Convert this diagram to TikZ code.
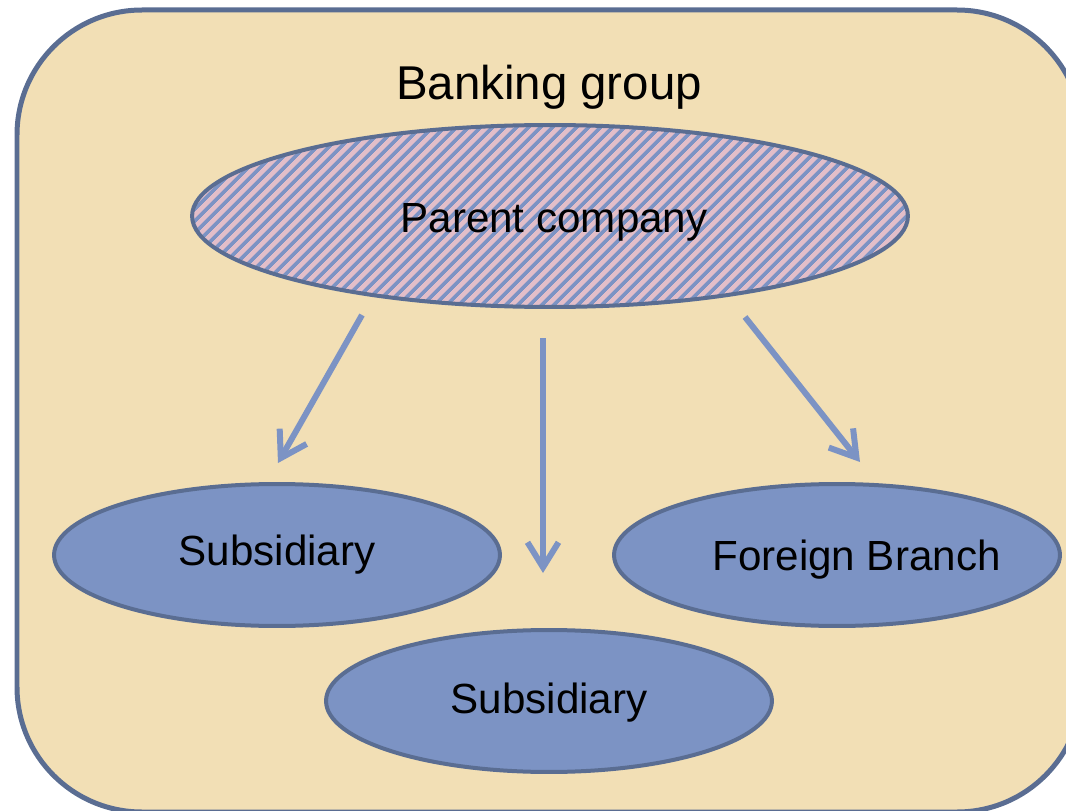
\documentclass[tikz,border=0pt]{standalone}
\usepackage{fontspec}
\setmainfont{Liberation Sans}
\usetikzlibrary{shapes.geometric,arrows.meta,patterns.meta}
\definecolor{groupfill}{HTML}{F2DFB5}
\definecolor{edgeblue}{HTML}{5A6D92}
\definecolor{unitblue}{HTML}{7C93C4}
\definecolor{parentpink}{HTML}{E2BEC9}

\begin{document}
\begin{tikzpicture}[x=0.02cm,y=-0.02cm,
    unit/.style={ellipse,draw=edgeblue,line width=0.08cm,fill=unitblue,inner sep=0pt,
        minimum width=8.92cm,minimum height=2.84cm,text depth=0.1cm,
        font=\fontsize{24}{28}\selectfont},
    link/.style={draw=unitblue,line width=0.12cm,-{Straight Barb[length=0.5cm,width=0.62cm]}}]
    \useasboundingbox (0,0) rectangle (1066,811);
    \clip (0,0) rectangle (1066,811);

    % Group frame
    \draw[draw=edgeblue,line width=0.1cm,fill=groupfill,rounded corners=2.5cm] (17,10) rectangle (1082,812);
    \node[anchor=base,font=\fontsize{27}{32}\selectfont] (group) at (549,100) {Banking group};

    % Parent company (hatched)
    \node[unit,minimum width=14.32cm,minimum height=3.64cm,text height=0.78cm,
        preaction={fill=parentpink},
        pattern={Lines[angle=45,distance=0.18cm,line width=0.08cm]},pattern color=unitblue]
        (parent) at (550,216) {\hspace*{0.16cm}Parent company};

    % Subsidiaries and branch
    \node[unit,text height=0.54cm] (subleft) at (277,555) {Subsidiary};
    \node[unit,text height=0.72cm] (branch) at (837,555) {\makebox[0pt]{\hspace*{0.78cm}Foreign Branch}};
    \node[unit,text height=0.62cm] (subbottom) at (549,701) {Subsidiary};

    % Links
    \coordinate (l0) at (362,315); \coordinate (l1) at (278,463);
    \coordinate (m0) at (543,338); \coordinate (m1) at (543,573);
    \coordinate (r0) at (745,317); \coordinate (r1) at (860,462);
    \draw[link] (l0) -- (l1);
    \draw[link] (m0) -- (m1);
    \draw[link] (r0) -- (r1);
\end{tikzpicture}
\end{document}
